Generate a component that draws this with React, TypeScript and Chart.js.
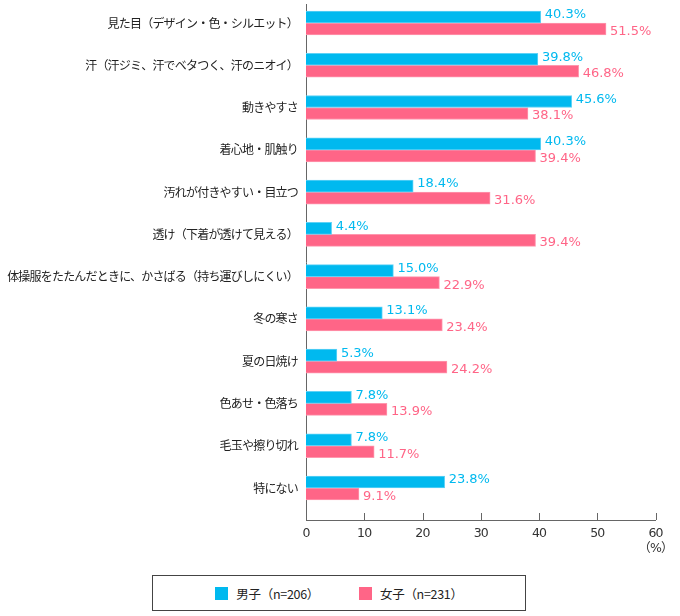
import React, { useEffect, useRef } from "react";
import { Chart, registerables } from "chart.js";

Chart.register(...registerables);

const categories = [
  "見た目（デザイン・色・シルエット）",
  "汗（汗ジミ、汗でベタつく、汗のニオイ）",
  "動きやすさ",
  "着心地・肌触り",
  "汚れが付きやすい・目立つ",
  "透け（下着が透けて見える）",
  "体操服をたたんだときに、かさばる（持ち運びしにくい）",
  "冬の寒さ",
  "夏の日焼け",
  "色あせ・色落ち",
  "毛玉や擦り切れ",
  "特にない",
];

const maleValues = [40.3, 39.8, 45.6, 40.3, 18.4, 4.4, 15.0, 13.1, 5.3, 7.8, 7.8, 23.8];
const femaleValues = [51.5, 46.8, 38.1, 39.4, 31.6, 39.4, 22.9, 23.4, 24.2, 13.9, 11.7, 9.1];

const seriesNames = ["男子（n=206）", "女子（n=231）"];
const seriesColors = ["#00B9EF", "#FF6587"];
const seriesBorders = ["#5FD2F6", "#FF97AE"];

const xMin = 0;
const xMax = 60;
const xStep = 10;
const xUnit = "（%）";

const FONT = '"Noto Sans CJK JP", "Noto Sans", sans-serif';
const NUM_FONT = '"DejaVu Sans", "Noto Sans CJK JP", sans-serif';

const tightText = {
  id: "tightText",
  beforeDraw(chart: any) {
    chart.ctx.letterSpacing = "-0.8px";
  },
  beforeDatasetsDraw(chart: any) {
    chart.ctx.letterSpacing = "0px";
  },
};

const valueLabels = {
  id: "valueLabels",
  afterDatasetsDraw(chart: any) {
    const ctx = chart.ctx;
    ctx.save();
    ctx.letterSpacing = "0px";
    ctx.font = `13px ${NUM_FONT}`;
    ctx.textAlign = "left";
    ctx.textBaseline = "middle";
    chart.data.datasets.forEach((ds: any, di: number) => {
      const meta = chart.getDatasetMeta(di);
      meta.data.forEach((bar: any, i: number) => {
        const v = ds.data[i].x as number;
        ctx.fillStyle = seriesColors[di];
        ctx.fillText(v.toFixed(1) + "%", bar.x + 4, bar.y + (di === 0 ? -2 : 2.5));
      });
    });
    ctx.restore();
  },
};

const innerTicks = {
  id: "innerTicks",
  afterDraw(chart: any) {
    const ctx = chart.ctx;
    const xs = chart.scales.x;
    const bottom = chart.chartArea.bottom;
    ctx.save();
    ctx.strokeStyle = "#666";
    ctx.lineWidth = 1;
    xs.ticks.forEach((t: any) => {
      if (t.value === xMin) return;
      const px = Math.round(xs.getPixelForValue(t.value)) + 0.5;
      ctx.beginPath();
      ctx.moveTo(px, bottom - 7);
      ctx.lineTo(px, bottom);
      ctx.stroke();
    });
    ctx.restore();
  },
};

export default function App() {
  const canvasRef = useRef<HTMLCanvasElement | null>(null);

  useEffect(() => {
    if (!canvasRef.current) return;
    const chart = new Chart(canvasRef.current, {
      type: "bar",
      data: {
        datasets: [maleValues, femaleValues].map((vals, di) => ({
          label: seriesNames[di],
          data: vals.map((v, i) => ({ x: v, y: i })),
          backgroundColor: seriesColors[di],
          borderColor: seriesBorders[di],
          borderWidth: 1,
          barThickness: 12,
        })),
      },
      options: {
        indexAxis: "y",
        animation: false,
        responsive: false,
        layout: { padding: { top: 4, right: 19, bottom: 56, left: 0 } },
        plugins: {
          legend: { display: false },
          tooltip: { enabled: false },
        },
        scales: {
          x: {
            type: "linear",
            position: "bottom",
            min: xMin,
            max: xMax,
            grid: { display: false, drawTicks: false },
            border: { display: true, color: "#666", width: 1 },
            ticks: {
              stepSize: xStep,
              padding: 6,
              color: "#333",
              font: { family: NUM_FONT, size: 12.5 },
              callback: (v: any) => (v === xMax ? [String(v), xUnit] : String(v)),
            },
            afterFit: (s: any) => {
              s.height = 40;
            },
          },
          y: {
            type: "linear",
            reverse: true,
            offset: false,
            bounds: "data",
            min: -0.449,
            max: 11.757,
            grid: { display: false, drawTicks: false, offset: false },
            border: { display: true, color: "#666", width: 1 },
            afterBuildTicks: (s: any) => {
              s.ticks = categories.map((_, i) => ({ value: i }));
            },
            ticks: {
              autoSkip: false,
              padding: 8,
              color: "#222",
              font: { family: FONT, size: 12 },
              callback: (v: any) => (Number.isInteger(v) && categories[v] ? categories[v] : ""),
            },
            afterFit: (s: any) => {
              s.width = 306;
              s.paddingTop = 0;
              s.paddingBottom = 0;
            },
          },
        },
      } as any,
      plugins: [tightText, valueLabels, innerTicks],
    });
    return () => chart.destroy();
  }, []);

  return (
    <div
      style={{
        position: "fixed",
        left: 0,
        top: 0,
        width: 680,
        height: 616,
        background: "#fff",
      }}
    >
      <canvas
        ref={canvasRef}
        width={680}
        height={616}
        style={{ position: "absolute", left: 0, top: 0, width: 680, height: 616, display: "block" }}
      />
      <div
        style={{
          position: "absolute",
          left: 152,
          top: 575,
          width: 374,
          height: 36,
          boxSizing: "border-box",
          border: "1px solid #444",
          display: "flex",
          alignItems: "center",
          justifyContent: "center",
          gap: 40,
          fontFamily: FONT,
          fontSize: 12.5,
          letterSpacing: "-0.3px",
          color: "#222",
          background: "#fff",
        }}
      >
        {seriesNames.map((name, i) => (
          <div key={name} style={{ display: "flex", alignItems: "center" }}>
            <span
              style={{
                display: "inline-block",
                width: 13,
                height: 13,
                background: seriesColors[i],
                marginRight: 8,
              }}
            />
            <span>{name}</span>
          </div>
        ))}
      </div>
    </div>
  );
}
